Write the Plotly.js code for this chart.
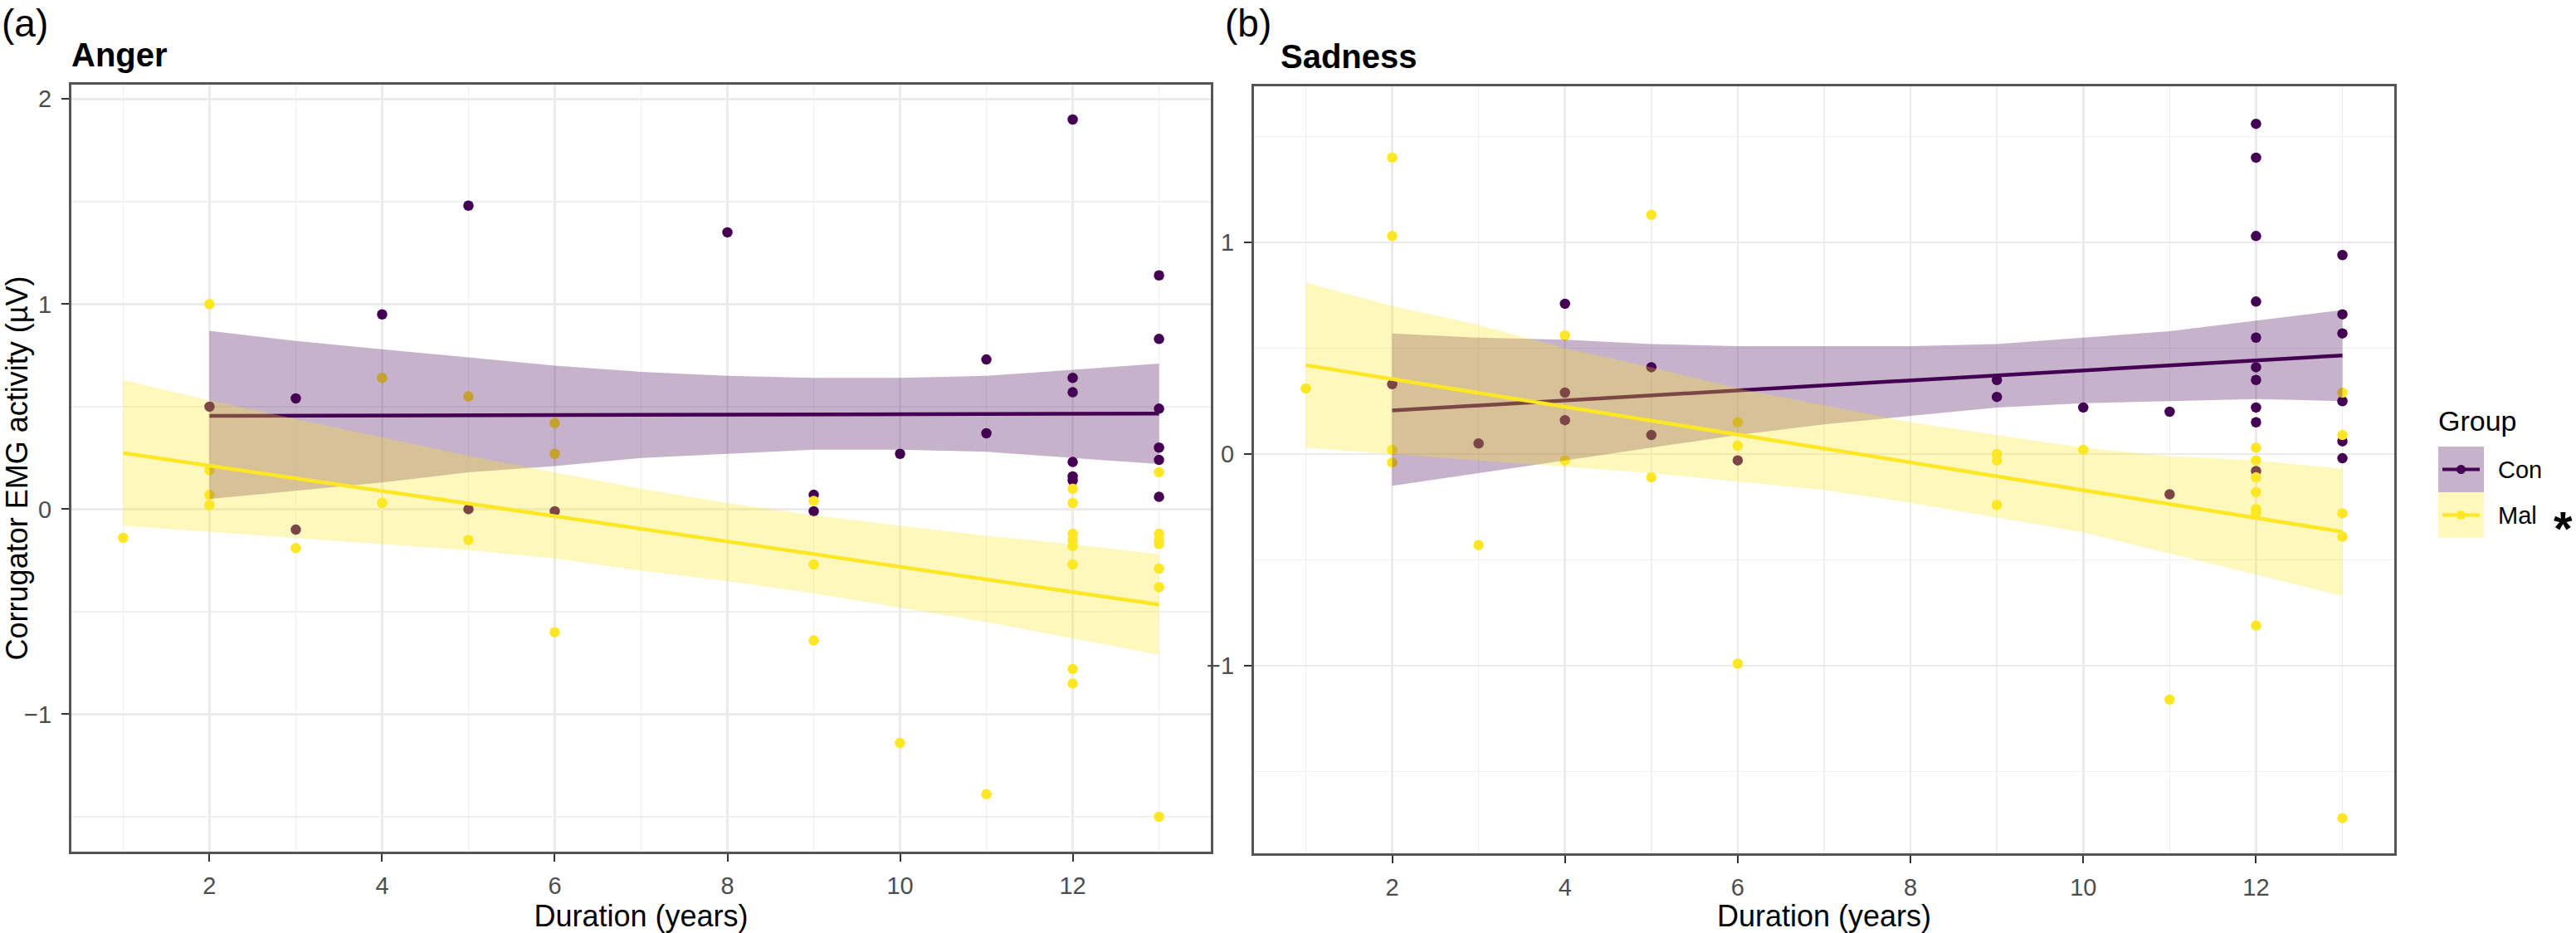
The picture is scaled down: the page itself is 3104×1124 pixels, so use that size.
<!DOCTYPE html>
<html>
<head>
<meta charset="utf-8">
<script src="https://cdn.plot.ly/plotly-3.0.1.min.js"></script>
<style>html,body{margin:0;padding:0;background:#fff;}#chart{width:3104px;height:1124px;}</style>
</head>
<body>
<div id="chart"></div>
<script>
// ---------- data ----------
const groups = ["Con", "Mal"];
const panelTitles = ["Anger", "Sadness"];
const panelLabels = ["(a)", "(b)"];
const xTitle = "Duration (years)";
const yTitle = "Corrugator EMG activity (µV)";

// Anger – raw points
const angerConX = [2,3,3,4,5,5,6,8,9,9,10,11,11,12,12,12,12,12,12,13,13,13,13,13,13];
const angerConY = [0.50,0.54,-0.10,0.95,1.48,0.00,-0.01,1.35,0.07,-0.01,0.27,0.73,0.37,1.90,0.64,0.57,0.23,0.16,0.14,1.14,0.83,0.49,0.30,0.24,0.06];
const angerMalX = [1,2,2,2,2,3,4,4,5,5,6,6,6,9,9,9,10,11,12,12,12,12,12,12,12,12,13,13,13,13,13,13,13];
const angerMalY = [-0.14,1.00,0.19,0.07,0.02,-0.19,0.64,0.03,0.55,-0.15,0.42,0.27,-0.60,0.04,-0.27,-0.64,-1.14,-1.39,0.10,0.03,-0.12,-0.15,-0.18,-0.27,-0.78,-0.85,0.18,-0.12,-0.15,-0.17,-0.29,-0.38,-1.50];

// Anger – fitted lines and confidence bands
const angerConFitX = [2,3,4,5,6,7,8,9,10,11,12,13];
const angerConFit  = [0.455,0.456,0.457,0.458,0.459,0.460,0.461,0.462,0.463,0.464,0.465,0.466];
const angerConHi   = [0.87,0.82,0.78,0.74,0.70,0.67,0.65,0.64,0.64,0.65,0.68,0.71];
const angerConLo   = [0.05,0.09,0.13,0.18,0.21,0.25,0.27,0.29,0.29,0.28,0.25,0.22];
const angerMalFitX = [1,2,3,4,5,6,7,8,9,10,11,12,13];
const angerMalFit  = [0.274,0.212,0.151,0.089,0.028,-0.034,-0.096,-0.157,-0.219,-0.280,-0.342,-0.404,-0.465];
const angerMalHi   = [0.63,0.53,0.44,0.35,0.26,0.18,0.10,0.03,-0.03,-0.08,-0.13,-0.17,-0.22];
const angerMalLo   = [-0.08,-0.11,-0.14,-0.17,-0.20,-0.24,-0.30,-0.35,-0.41,-0.48,-0.55,-0.63,-0.71];

// Sadness – raw points
const sadConX = [2,3,4,4,4,5,5,6,9,9,10,11,11,12,12,12,12,12,12,12,12,12,12,13,13,13,13,13,13];
const sadConY = [0.33,0.05,0.71,0.29,0.16,0.41,0.09,-0.03,0.35,0.27,0.22,0.20,-0.19,1.56,1.40,1.03,0.72,0.55,0.41,0.35,0.22,0.15,-0.08,0.94,0.66,0.57,0.25,0.06,-0.02];
const sadMalX = [1,2,2,2,2,3,4,4,5,5,6,6,6,9,9,9,10,11,12,12,12,12,12,12,12,13,13,13,13,13];
const sadMalY = [0.31,1.40,1.03,0.02,-0.04,-0.43,0.56,-0.03,1.13,-0.11,0.15,0.04,-0.99,0.00,-0.03,-0.24,0.02,-1.16,0.03,-0.03,-0.11,-0.18,-0.26,-0.28,-0.81,0.29,0.09,-0.28,-0.39,-1.72];

// Sadness – fitted lines and confidence bands
const sadConFitX = [2,3,4,5,6,7,8,9,10,11,12,13];
const sadConFit  = [0.206,0.230,0.253,0.277,0.300,0.324,0.348,0.371,0.395,0.418,0.442,0.466];
const sadConHi   = [0.57,0.55,0.54,0.52,0.51,0.51,0.51,0.52,0.55,0.58,0.63,0.68];
const sadConLo   = [-0.15,-0.09,-0.03,0.03,0.09,0.14,0.18,0.22,0.24,0.25,0.26,0.25];
const sadMalFitX = [1,2,3,4,5,6,7,8,9,10,11,12,13];
const sadMalFit  = [0.420,0.354,0.289,0.223,0.158,0.092,0.026,-0.039,-0.105,-0.170,-0.236,-0.302,-0.367];
const sadMalHi   = [0.81,0.70,0.61,0.50,0.41,0.31,0.23,0.15,0.09,0.03,-0.01,-0.03,-0.07];
const sadMalLo   = [0.03,0.00,-0.03,-0.06,-0.09,-0.13,-0.17,-0.23,-0.30,-0.37,-0.47,-0.57,-0.67];

// ---------- styling ----------
const W = 3104, H = 1124;
const FONT = "Liberation Sans, Arial, Helvetica, sans-serif";
const conColor = "#440154", malColor = "#FDE725";
const conFill = "rgba(68,1,84,0.3)", malFill = "rgba(253,231,37,0.3)";
const PX = p => p / W, PY = p => 1 - p / H;

function band(xs, lo, hi, fill, xa, ya) {
  return {
    x: xs.concat(xs.slice().reverse()),
    y: hi.concat(lo.slice().reverse()),
    type: "scatter", mode: "none", fill: "toself", fillcolor: fill,
    hoverinfo: "skip", showlegend: false, xaxis: xa, yaxis: ya
  };
}
function pts(xs, ys, color, xa, ya) {
  return { x: xs, y: ys, type: "scatter", mode: "markers",
    marker: { color: color, size: 12.5, line: { width: 0 } },
    showlegend: false, xaxis: xa, yaxis: ya };
}
function line(xs, ys, color, xa, ya) {
  return { x: xs, y: ys, type: "scatter", mode: "lines",
    line: { color: color, width: 4.5 }, showlegend: false, xaxis: xa, yaxis: ya };
}

const traces = [
  pts(angerConX, angerConY, conColor, "x", "y"),
  pts(angerMalX, angerMalY, malColor, "x", "y"),
  band(angerConFitX, angerConLo, angerConHi, conFill, "x", "y"),
  line(angerConFitX, angerConFit, conColor, "x", "y"),
  band(angerMalFitX, angerMalLo, angerMalHi, malFill, "x", "y"),
  line(angerMalFitX, angerMalFit, malColor, "x", "y"),

  pts(sadConX, sadConY, conColor, "x2", "y2"),
  pts(sadMalX, sadMalY, malColor, "x2", "y2"),
  band(sadConFitX, sadConLo, sadConHi, conFill, "x2", "y2"),
  line(sadConFitX, sadConFit, conColor, "x2", "y2"),
  band(sadMalFitX, sadMalLo, sadMalHi, malFill, "x2", "y2"),
  line(sadMalFitX, sadMalFit, malColor, "x2", "y2")
];

const tickFont = { family: FONT, size: 29, color: "#4d4d4d" };
function xAxis(dom, anchor) {
  return {
    domain: dom, anchor: anchor, range: [0.4, 13.6],
    tick0: 0, dtick: 2, ticks: "outside", ticklen: 9, tickwidth: 2, tickcolor: "#333333",
    tickfont: tickFont, ticklabelstandoff: 4,
    showgrid: true, gridcolor: "#ebebeb", gridwidth: 2.5,
    minor: { dtick: 1, showgrid: true, gridcolor: "#f0f0f0", gridwidth: 1.5 },
    showline: true, linecolor: "#555555", linewidth: 3, mirror: true, zeroline: false,
    title: { text: xTitle, font: { family: FONT, size: 36, color: "#000" }, standoff: 8 },
    fixedrange: true
  };
}
function yAxis(dom, anchor, range, withTitle) {
  return {
    domain: dom, anchor: anchor, range: range,
    tick0: 0, dtick: 1, ticks: "outside", ticklen: 9, tickwidth: 2, tickcolor: "#333333",
    tickfont: tickFont, ticklabelstandoff: 6,
    showgrid: true, gridcolor: "#ebebeb", gridwidth: 2.5,
    minor: { dtick: 0.5, showgrid: true, gridcolor: "#f0f0f0", gridwidth: 1.5 },
    showline: true, linecolor: "#555555", linewidth: 3, mirror: true, zeroline: false,
    title: withTitle ? { text: yTitle, font: { family: FONT, size: 36, color: "#000" }, standoff: 6 } : { text: "" },
    fixedrange: true
  };
}

const annotations = [
  { text: panelLabels[0], x: PX(0), y: 1, xref: "paper", yref: "paper", xanchor: "left", yanchor: "top", showarrow: false, font: { family: FONT, size: 46, color: "#000" } },
  { text: panelLabels[1], x: PX(1474), y: 1, xref: "paper", yref: "paper", xanchor: "left", yanchor: "top", showarrow: false, font: { family: FONT, size: 46, color: "#000" } },
  { text: panelTitles[0], x: PX(84), y: PY(66), xref: "paper", yref: "paper", xanchor: "left", yanchor: "middle", showarrow: false, font: { family: FONT, size: 40, color: "#000", weight: "bold" } },
  { text: panelTitles[1], x: PX(1541), y: PY(68), xref: "paper", yref: "paper", xanchor: "left", yanchor: "middle", showarrow: false, font: { family: FONT, size: 40, color: "#000", weight: "bold" } },
  { text: "Group", x: PX(2936), y: PY(507), xref: "paper", yref: "paper", xanchor: "left", yanchor: "middle", showarrow: false, font: { family: FONT, size: 34, color: "#000" } },
  { text: groups[0], x: PX(3008), y: PY(566), xref: "paper", yref: "paper", xanchor: "left", yanchor: "middle", showarrow: false, font: { family: FONT, size: 29, color: "#000" } },
  { text: groups[1], x: PX(3008), y: PY(621), xref: "paper", yref: "paper", xanchor: "left", yanchor: "middle", showarrow: false, font: { family: FONT, size: 29, color: "#000" } },
  { text: "*", x: PX(3088), y: PY(636), xref: "paper", yref: "paper", xanchor: "center", yanchor: "middle", showarrow: false, font: { family: FONT, size: 58, color: "#000", weight: "bold" } }
];

// legend keys (drawn as layout decorations)
function key(top, fill, color) {
  const cy = top + 27.5;
  return [
    { type: "rect", xref: "paper", yref: "paper", x0: PX(2938), x1: PX(2993), y0: PY(top + 55), y1: PY(top), fillcolor: fill, line: { width: 0 }, layer: "above" },
    { type: "line", xref: "paper", yref: "paper", x0: PX(2943), x1: PX(2988), y0: PY(cy), y1: PY(cy), line: { color: color, width: 4 }, layer: "above" },
    { type: "circle", xref: "paper", yref: "paper", x0: PX(2960), x1: PX(2971), y0: PY(cy + 5.5), y1: PY(cy - 5.5), fillcolor: color, line: { width: 0 }, layer: "above" }
  ];
}
const shapes = key(538, conFill, conColor).concat(key(593, malFill, malColor));

const layout = {
  width: W, height: H,
  margin: { l: 0, r: 0, t: 0, b: 0, pad: 0 },
  paper_bgcolor: "#ffffff", plot_bgcolor: "#ffffff",
  showlegend: false,
  font: { family: FONT },
  xaxis: xAxis([PX(86), PX(1459)], "y"),
  yaxis: yAxis([1 - 1026 / H, 1 - 102 / H], "x", [-1.67, 2.07], true),
  xaxis2: xAxis([PX(1511), PX(2885)], "y2"),
  yaxis2: yAxis([1 - 1028 / H, 1 - 104 / H], "x2", [-1.886, 1.737], false),
  annotations: annotations,
  shapes: shapes
};

Plotly.newPlot("chart", traces, layout, { staticPlot: true, displayModeBar: false });
</script>
</body>
</html>
